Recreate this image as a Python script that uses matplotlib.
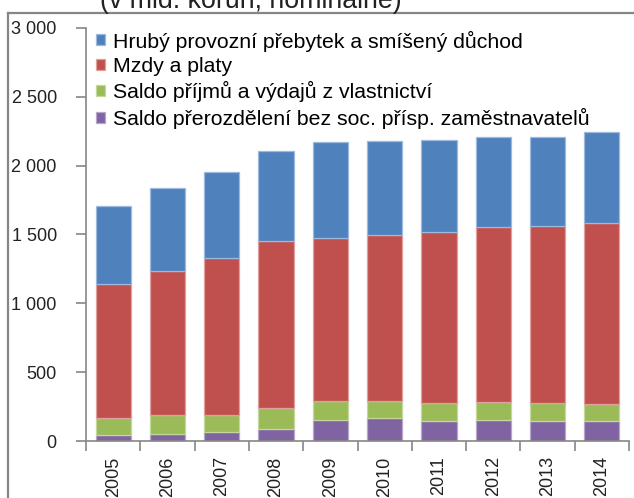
import matplotlib

matplotlib.use("Agg")
import matplotlib.pyplot as plt
import numpy as np
from matplotlib.lines import Line2D

plt.rcParams["font.family"] = ["Liberation Sans", "DejaVu Sans"]

years = ["2005", "2006", "2007", "2008", "2009", "2010", "2011", "2012", "2013", "2014"]
prerozdeleni = [44, 53, 63, 89, 155, 165, 145, 155, 145, 145]
vlastnictvi = [121, 138, 128, 151, 139, 128, 128, 128, 128, 122]
mzdy = [978, 1044, 1139, 1211, 1184, 1203, 1242, 1271, 1290, 1313]
prebytek = [567, 606, 623, 652, 692, 681, 671, 651, 643, 668]

labels = [
    "Saldo přerozdělení bez soc. přísp. zaměstnavatelů",
    "Saldo příjmů a výdajů z vlastnictví",
    "Mzdy a platy",
    "Hrubý provozní přebytek a smíšený důchod",
]
colors = ["#8064A2", "#9BBB59", "#C0504D", "#4F81BD"]
edges = ["#B7A6CC", "#C4D89C", "#E0A09E", "#9DB9DE"]
yticks = [0, 500, 1000, 1500, 2000, 2500, 3000]
ytick_labels = ["0", "500", "1 000", "1 500", "2 000", "2 500", "3 000"]

W, H = 634, 498
fig = plt.figure(figsize=(W / 100, H / 100), dpi=100)
ax = fig.add_axes([86 / W, 1 - 441 / H, (629 - 86) / W, (441 - 28) / H])

x = np.arange(len(years))
bottom = np.zeros(len(years))
handles = []
for vals, lab, c, e in zip([prerozdeleni, vlastnictvi, mzdy, prebytek], labels, colors, edges):
    b = ax.bar(x, vals, 0.65, bottom=bottom, color=c, edgecolor=e, linewidth=0.9, label=lab)
    handles.append(b)
    bottom += np.array(vals)

ax.set_xlim(-0.5, len(years) - 0.5)
ax.set_ylim(0, 3000)
ax.set_yticks(yticks)
ax.set_yticklabels(ytick_labels, fontsize=13, color="#222222")
ax.set_xticks(x)
ax.set_xticklabels(years, rotation=90, fontsize=13, color="#222222")
ax.set_xticks(np.arange(len(years) + 1) - 0.5, minor=True)
ax.tick_params(axis="x", which="major", length=0, pad=11)
ax.tick_params(axis="x", which="minor", length=7, color="#868686", width=1.2)
ax.tick_params(axis="y", length=7, color="#868686", width=1.2, pad=14)
for s in ["top", "right"]:
    ax.spines[s].set_visible(False)
for s in ["left", "bottom"]:
    ax.spines[s].set_color("#868686")
    ax.spines[s].set_linewidth(1.2)

ax.legend(handles[::-1], labels[::-1], loc="upper left",
          bbox_to_anchor=(96 / W, 1 - 30.5 / H), bbox_transform=fig.transFigure,
          frameon=False, fontsize=15.3, handlelength=0.42, handleheight=0.42,
          handletextpad=0.38, labelspacing=0.25, borderaxespad=0, borderpad=0)

# outer chart border (cropped at right and bottom)
fig.add_artist(Line2D([8 / W, 8 / W], [0, 1 - 13 / H], transform=fig.transFigure,
                      color="#868686", linewidth=1.6))
fig.add_artist(Line2D([8 / W, 1], [1 - 13 / H, 1 - 13 / H], transform=fig.transFigure,
                      color="#868686", linewidth=1.6))

fig.text(251 / W, 1 - 8 / H, "(v mld. korun, nominálně)", fontsize=19.3,
         ha="center", va="baseline", color="#222222")

fig.savefig("out.png", dpi=100)
